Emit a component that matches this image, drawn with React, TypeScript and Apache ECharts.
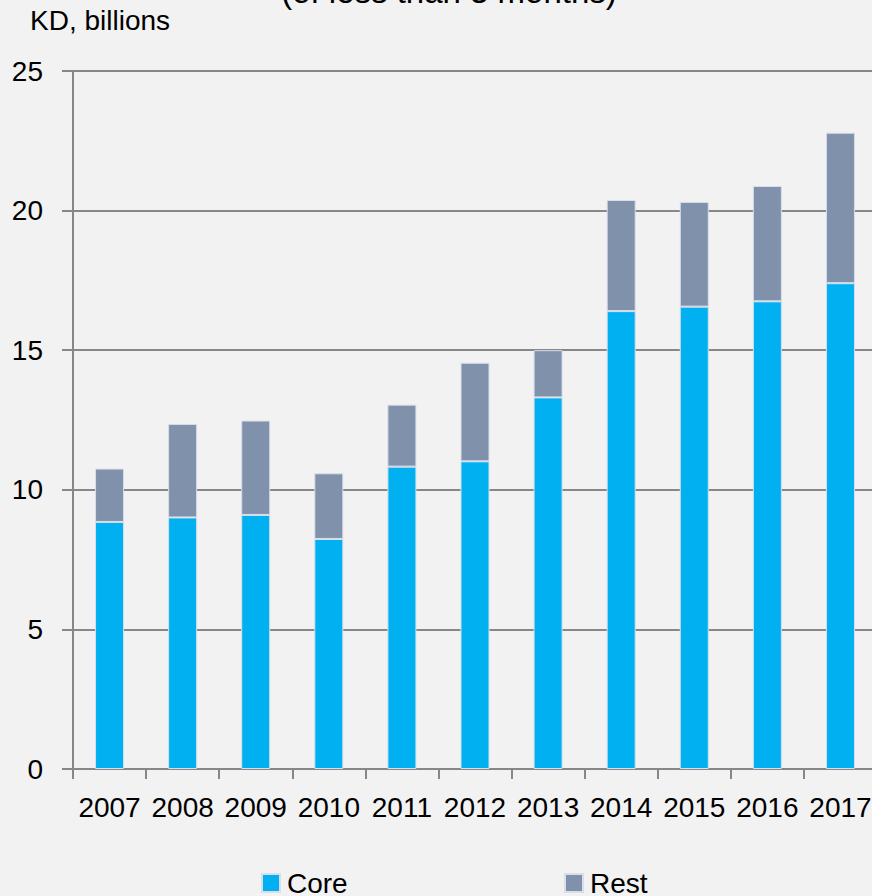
import React, { useEffect, useRef } from "react";
import * as echarts from "echarts";

const years = ["2007", "2008", "2009", "2010", "2011", "2012", "2013", "2014", "2015", "2016", "2017"];
const coreValues = [8.85, 9.01, 9.1, 8.24, 10.83, 11.02, 13.31, 16.4, 16.56, 16.75, 17.4];
const restValues = [1.91, 3.35, 3.38, 2.35, 2.22, 3.53, 1.69, 3.98, 3.75, 4.13, 5.39];
const yTicks = { min: 0, max: 25, interval: 5 };

const FONT = "'Liberation Sans', Arial, sans-serif";
const GRID_GRAY = "#878787";
const CORE_COLOR = "#00B0F0";
const REST_COLOR = "#8091AB";

export default function App() {
  const ref = useRef<HTMLDivElement>(null);

  useEffect(() => {
    if (!ref.current) return;
    const chart = echarts.init(ref.current, null, { renderer: "svg" });
    chart.setOption({
      animation: false,
      backgroundColor: "#F2F2F2",
      textStyle: { fontFamily: FONT },
      grid: { left: 73, right: 3, top: 71, bottom: 127, containLabel: false },
      graphic: [
        {
          type: "text",
          left: 30,
          top: 6,
          style: { text: "KD, billions", fontSize: 28, fontFamily: FONT, fill: "#000" },
        },
        {
          type: "text",
          x: 449,
          y: -9,
          style: {
            text: "(of less than 3 months)",
            fontSize: 33,
            fontFamily: FONT,
            fill: "#000",
            align: "center",
            verticalAlign: "middle",
          },
        },
      ],
      legend: [
        {
          data: ["Core"],
          left: 261,
          top: 869,
          padding: 0,
          itemWidth: 18,
          itemHeight: 18,
          icon: "rect",
          textStyle: { fontSize: 28, fontFamily: FONT, color: "#000", padding: [0, 0, 0, 2] },
        },
        {
          data: ["Rest"],
          left: 564,
          top: 869,
          padding: 0,
          itemWidth: 18,
          itemHeight: 18,
          icon: "rect",
          textStyle: { fontSize: 28, fontFamily: FONT, color: "#000", padding: [0, 0, 0, 2] },
        },
      ],
      xAxis: {
        type: "category",
        data: years,
        boundaryGap: true,
        axisLine: { show: true, lineStyle: { color: GRID_GRAY, width: 2 } },
        axisTick: { show: true, interval: 0, length: 10, lineStyle: { color: GRID_GRAY, width: 2 } },
        axisLabel: { interval: 0, margin: 24, fontSize: 28, fontFamily: FONT, color: "#000" },
      },
      yAxis: {
        type: "value",
        min: yTicks.min,
        max: yTicks.max,
        interval: yTicks.interval,
        axisLine: { show: true, lineStyle: { color: GRID_GRAY, width: 2 } },
        axisTick: { show: true, length: 11, lineStyle: { color: GRID_GRAY, width: 2 } },
        axisLabel: { margin: 30, fontSize: 28, fontFamily: FONT, color: "#000" },
        splitLine: { show: true, lineStyle: { color: GRID_GRAY, width: 2 } },
      },
      series: [
        {
          name: "Core",
          type: "bar",
          stack: "total",
          barWidth: 29,
          data: coreValues,
          itemStyle: { color: CORE_COLOR, borderColor: "#D9DEEA", borderWidth: 1 },
        },
        {
          name: "Rest",
          type: "bar",
          stack: "total",
          barWidth: 29,
          data: restValues,
          itemStyle: { color: REST_COLOR, borderColor: "#D9DEEA", borderWidth: 1 },
        },
      ],
    });
    return () => chart.dispose();
  }, []);

  return (
    <div
      style={{
        position: "fixed",
        left: 0,
        top: 0,
        width: 872,
        height: 896,
        overflow: "hidden",
        background: "#F2F2F2",
      }}
    >
      <div ref={ref} style={{ width: 880, height: 896 }} />
    </div>
  );
}
